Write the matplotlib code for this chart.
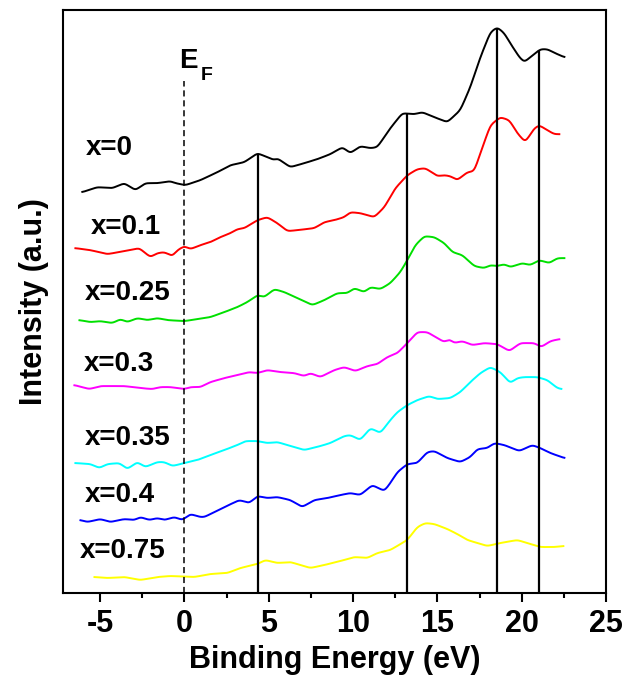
import matplotlib.pyplot as plt
import numpy as np
from matplotlib.ticker import MultipleLocator

plt.rcParams['font.family'] = ['Liberation Sans', 'DejaVu Sans']
plt.rcParams['font.weight'] = 'bold'
plt.rcParams['axes.unicode_minus'] = False

# spectra: binding energy (eV) and stacked intensity (a.u.)
e_0 = [-6.05, -5.16, -4.27, -3.56, -2.90, -2.31, -1.60, -0.83, -0.53, 0.06, 0.95, 1.96, 2.73, 3.56,
       4.33, 4.92, 5.33, 5.51, 6.28, 7.11, 7.88, 8.65, 9.37, 9.84, 10.43, 11.03, 11.44, 12.21, 12.92,
       13.63, 14.11, 14.82, 15.59, 16.36, 16.95, 17.55, 18.14, 18.55, 18.97, 19.32, 19.86, 20.15,
       20.51, 21.10, 21.52, 21.99, 22.53]
i_0 = [401, 406, 405, 410, 403, 410, 410, 412, 410, 408, 413, 421, 428, 431,
       440, 436, 433, 435, 426, 430, 434, 439, 446, 440, 447, 445, 446, 465, 480,
       479, 481, 476, 471, 483, 506, 536, 561, 566, 560, 550, 536, 531,
       536, 544, 544, 540, 536]

e_01 = [-6.46, -5.57, -4.56, -3.56, -2.67, -2.02, -1.60, -1.19, -0.71, -0.41, 0.0, 0.36, 0.95, 1.54,
        2.13, 2.73, 3.14, 3.56, 4.33, 4.92, 5.51, 6.11, 6.70, 7.71, 8.30, 8.89, 9.48, 9.84, 10.43,
        11.26, 11.86, 12.51, 13.22, 13.81, 14.29, 15.00, 15.41, 15.77, 16.18, 16.78, 17.19, 17.55,
        18.14, 18.73, 19.27, 19.74, 20.21, 20.75, 21.04, 21.52, 21.93, 22.23]
i_01 = [345, 343, 339, 342, 345, 336, 340, 341, 337, 343, 347, 344, 348, 351,
        356, 360, 364, 365, 373, 376, 370, 362, 363, 365, 371, 373, 376, 381, 380,
        376, 386, 405, 418, 424, 425, 417, 418, 417, 413, 421, 422, 440,
        468, 476, 473, 460, 451, 465, 468, 463, 459, 459]

e_025 = [-6.22, -5.57, -4.98, -4.27, -3.79, -3.38, -2.79, -2.19, -1.60, -1.01, 0.0, 0.77, 1.54, 2.37,
         3.14, 3.73, 4.33, 4.74, 5.33, 5.93, 6.70, 7.59, 8.30, 9.07, 9.66, 10.08, 10.67, 11.03, 11.62,
         12.21, 12.80, 13.22, 13.69, 14.23, 14.82, 15.41, 15.89, 16.48, 17.19, 17.78, 18.14, 18.55,
         18.97, 19.32, 20.04, 20.51, 21.04, 21.64, 22.11, 22.53]
i_025 = [273, 271, 272, 270, 274, 271, 275, 273, 275, 273, 272, 274, 276, 281,
         286, 291, 298, 296, 304, 301, 295, 288, 293, 300, 300, 305, 301, 306, 304,
         310, 321, 333, 348, 357, 356, 350, 341, 338, 327, 325, 328, 327,
         329, 326, 330, 328, 333, 330, 335, 335]

e_03 = [-6.52, -5.63, -4.98, -3.56, -2.61, -1.90, -1.42, -0.83, 0.0, 0.36, 0.95, 1.54, 2.37, 3.14,
        3.85, 4.33, 4.92, 5.69, 6.52, 7.11, 7.47, 8.06, 8.89, 9.48, 10.14, 10.85, 11.44, 12.03, 12.63,
        13.22, 13.81, 14.40, 15.00, 15.41, 15.71, 16.00, 16.48, 17.07, 17.78, 18.55, 19.27, 19.92,
        20.75, 21.16, 21.70, 22.23]
i_03 = [208, 204, 207, 207, 205, 204, 206, 206, 204, 206, 206, 211, 215, 218,
        221, 220, 223, 221, 220, 217, 220, 216, 223, 226, 222, 227, 229, 236, 240,
        250, 261, 261, 255, 251, 254, 250, 252, 248, 250, 249, 242, 250,
        250, 246, 252, 254]

e_035 = [-6.46, -5.57, -5.04, -4.56, -3.85, -3.38, -2.79, -2.31, -1.60, -1.19, -0.71, 0.0, 0.77, 1.54,
         2.37, 3.14, 3.62, 4.33, 4.92, 5.51, 6.11, 7.11, 8.06, 8.65, 9.48, 9.84, 10.43, 11.03, 11.62,
         12.21, 12.63, 13.22, 13.81, 14.52, 15.00, 15.77, 16.36, 16.95, 17.55, 18.14, 18.73, 19.32,
         19.74, 20.15, 20.92, 21.52, 22.11, 22.35]
i_035 = [130, 129, 125, 129, 130, 124, 131, 126, 131, 131, 127, 130, 133, 138,
         143, 148, 152, 152, 150, 151, 148, 143, 147, 150, 157, 158, 153, 165, 160,
         173, 181, 188, 193, 197, 194, 195, 201, 211, 220, 226, 221, 210,
         215, 216, 216, 213, 205, 204]

e_04 = [-6.16, -5.75, -4.98, -4.39, -3.56, -2.96, -2.61, -2.07, -1.60, -1.19, -0.59, -0.12, 0.36, 0.95,
        1.19, 2.13, 3.26, 3.85, 4.33, 4.92, 5.51, 6.28, 6.99, 7.71, 8.48, 9.25, 9.84, 10.43, 11.14,
        11.86, 12.21, 12.63, 13.22, 13.81, 14.40, 14.82, 15.59, 16.36, 16.95, 17.37, 17.96, 18.38,
        18.97, 19.86, 20.63, 21.10, 21.70, 22.53]
i_04 = [73, 71, 74, 71, 74, 73, 76, 73, 75, 73, 76, 73, 79, 76,
        76, 84, 93, 90, 97, 95, 96, 93, 86, 93, 95, 98, 100, 98, 108,
        102, 110, 121, 129, 130, 141, 142, 135, 131, 136, 144, 145, 150,
        148, 142, 148, 145, 140, 135]

e_075 = [-5.33, -4.56, -3.56, -2.61, -1.60, -0.83, 0.59, 1.54, 2.55, 3.32, 4.33, 4.80, 5.51, 6.28,
         7.47, 8.30, 9.25, 10.08, 10.85, 11.44, 12.21, 13.22, 13.81, 14.29, 14.82, 15.59, 16.18, 16.78,
         17.37, 17.96, 18.73, 19.74, 20.33, 21.10, 21.93, 22.47]
i_075 = [16, 15, 16, 13, 16, 17, 16, 19, 20, 25, 29, 33, 30, 31,
         25, 28, 32, 36, 35, 40, 43, 53, 66, 70, 69, 64, 59, 53,
         50, 47, 50, 53, 50, 46, 46, 47]

labels = ['x=0', 'x=0.1', 'x=0.25', 'x=0.3', 'x=0.35', 'x=0.4', 'x=0.75']
colors = ['black', '#ff0000', '#00e000', '#ff00ff', '#00ffff', '#0000ff', '#ffff00']
label_x = [-5.87, -5.57, -5.93, -5.99, -5.93, -5.93, -6.22]
label_y = [445, 366, 300, 229, 155, 98, 42]

# peak markers, drawn from the x=0 curve down to the axis
peaks = [4.35, 13.2, 18.55, 21.05]
ef_top = 512

energies = [e_0, e_01, e_025, e_03, e_035, e_04, e_075]
intens = [i_0, i_01, i_025, i_03, i_035, i_04, i_075]


def smooth(e, y, sigma=0.12):
    # round off the corners between read points
    grid = np.linspace(e[0], e[-1], 600)
    yy = np.interp(grid, e, y)
    step = grid[1] - grid[0]
    k = np.arange(-int(3 * sigma / step), int(3 * sigma / step) + 1) * step
    w = np.exp(-0.5 * (k / sigma) ** 2)
    w /= w.sum()
    n = len(k) // 2
    pad = np.concatenate([np.full(n, yy[0]), yy, np.full(n, yy[-1])])
    return grid, np.convolve(pad, w, mode='valid')


fig = plt.figure(figsize=(6.42, 6.82), dpi=100)
ax = fig.add_axes([0.098, 0.1305, 0.846, 0.8545])

curves = []
for e, i, c in zip(energies, intens, colors):
    gx, gy = smooth(e, i)
    curves.append((gx, gy))
    ax.plot(gx, gy, color=c, lw=1.4)

for lab, lx, ly in zip(labels, label_x, label_y):
    ax.text(lx, ly, lab, fontsize=20, fontweight='bold', ha='left', va='center')

gx0, gy0 = curves[0]
for p in peaks:
    ax.vlines(p, 0, np.interp(p, gx0, gy0), color='black', lw=1.6)

ax.vlines(0, 0, ef_top, color='black', lw=1.1, linestyles=(0, (4, 2.5)))
ax.text(-0.3, 525, 'E', fontsize=20, fontweight='bold', ha='left', va='baseline')
ax.text(0.95, 513, 'F', fontsize=14, fontweight='bold', ha='left', va='baseline')

ax.set_xlim(-7.2, 25)
ax.set_ylim(0, 583)
ax.set_yticks([])
ax.xaxis.set_major_locator(MultipleLocator(5))
ax.xaxis.set_minor_locator(MultipleLocator(2.5))
ax.tick_params(axis='x', which='major', direction='out', length=6.5, width=1.5, labelsize=22, pad=5)
ax.tick_params(axis='x', which='minor', direction='out', length=3.5, width=1.5)
ax.tick_params(top=False, right=False, left=False)
for s in ax.spines.values():
    s.set_linewidth(1.5)

ax.set_xlabel('Binding Energy (eV)', fontsize=22, fontweight='bold', labelpad=4)
ax.set_ylabel('Intensity (a.u.)', fontsize=22, fontweight='bold', labelpad=10)

fig.savefig('out.png', dpi=100)
